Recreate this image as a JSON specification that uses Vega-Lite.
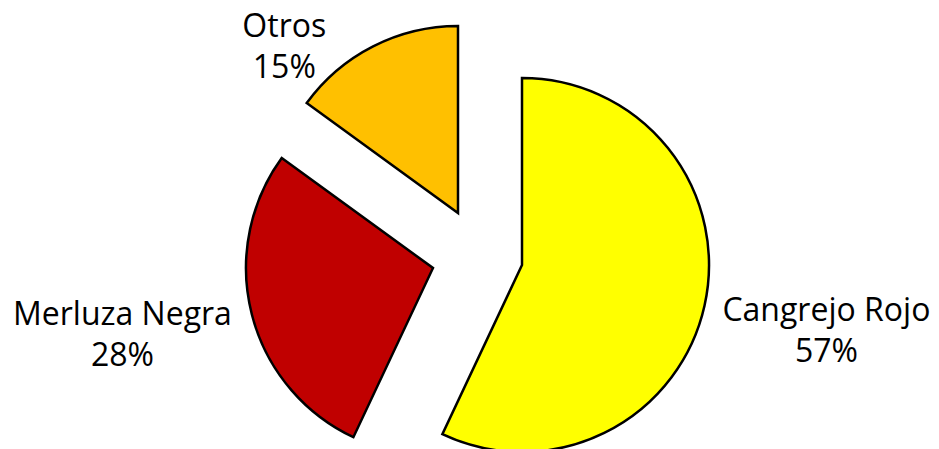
{
  "$schema": "https://vega.github.io/schema/vega-lite/v6.json",
  "width": 922,
  "height": 388,
  "autosize": {"type": "none"},
  "padding": {"left": 17, "top": 61, "right": 0, "bottom": 0},
  "background": "white",
  "config": {"view": {"stroke": null}},
  "data": {
    "values": [
      {"cat": "Cangrejo Rojo", "value": 57, "label": "Cangrejo Rojo\n57%"},
      {"cat": "Merluza Negra", "value": 28, "label": "Merluza Negra\n28%"},
      {"cat": "Otros", "value": 15, "label": "Otros\n15%"}
    ]
  },
  "layer": [
    {
      "transform": [
        {"stack": "value", "groupby": [], "sort": [{"field": "cat"}], "as": ["start", "end"]},
        {"filter": "datum.cat === 'Cangrejo Rojo'"}
      ],
      "mark": {"type": "arc", "outerRadius": 187, "xOffset": 44, "yOffset": 10, "stroke": "black", "strokeWidth": 2.5, "strokeJoin": "miter"},
      "encoding": {
        "theta": {"field": "start", "type": "quantitative", "scale": {"domain": [0, 100]}},
        "theta2": {"field": "end"},
        "color": {"field": "cat", "type": "nominal", "scale": {"domain": ["Cangrejo Rojo", "Merluza Negra", "Otros"], "range": ["#FFFF00", "#C00000", "#FFC000"]}, "legend": null}
      }
    },
    {
      "transform": [
        {"stack": "value", "groupby": [], "sort": [{"field": "cat"}], "as": ["start", "end"]},
        {"filter": "datum.cat === 'Merluza Negra'"}
      ],
      "mark": {"type": "arc", "outerRadius": 187, "xOffset": -45, "yOffset": 13, "stroke": "black", "strokeWidth": 2.5, "strokeJoin": "miter"},
      "encoding": {
        "theta": {"field": "start", "type": "quantitative", "scale": {"domain": [0, 100]}},
        "theta2": {"field": "end"},
        "color": {"field": "cat", "type": "nominal", "legend": null}
      }
    },
    {
      "transform": [
        {"stack": "value", "groupby": [], "sort": [{"field": "cat"}], "as": ["start", "end"]},
        {"filter": "datum.cat === 'Otros'"}
      ],
      "mark": {"type": "arc", "outerRadius": 187, "xOffset": -20, "yOffset": -42, "stroke": "black", "strokeWidth": 2.5, "strokeJoin": "miter"},
      "encoding": {
        "theta": {"field": "start", "type": "quantitative", "scale": {"domain": [0, 100]}},
        "theta2": {"field": "end"},
        "color": {"field": "cat", "type": "nominal", "legend": null}
      }
    },
    {
      "mark": {"type": "text", "radius": 357, "dy": -22, "font": "Open Sans", "fontSize": 32, "lineHeight": 41, "lineBreak": "\n", "align": "center", "baseline": "middle", "color": "black"},
      "encoding": {
        "theta": {"field": "value", "type": "quantitative", "stack": true, "scale": {"domain": [0, 100]}},
        "text": {"condition": {"test": "datum.cat === 'Cangrejo Rojo'", "field": "label"}, "value": ""}
      }
    },
    {
      "mark": {"type": "text", "radius": 364, "dx": -3, "dy": -31, "font": "Open Sans", "fontSize": 32, "lineHeight": 41, "lineBreak": "\n", "align": "center", "baseline": "middle", "color": "black"},
      "encoding": {
        "theta": {"field": "value", "type": "quantitative", "stack": true, "scale": {"domain": [0, 100]}},
        "text": {"condition": {"test": "datum.cat === 'Merluza Negra'", "field": "label"}, "value": ""}
      }
    },
    {
      "mark": {"type": "text", "radius": 235, "dx": -87, "dy": -19, "font": "Open Sans", "fontSize": 32, "lineHeight": 41, "lineBreak": "\n", "align": "center", "baseline": "middle", "color": "black"},
      "encoding": {
        "theta": {"field": "value", "type": "quantitative", "stack": true, "scale": {"domain": [0, 100]}},
        "text": {"condition": {"test": "datum.cat === 'Otros'", "field": "label"}, "value": ""}
      }
    }
  ]
}
